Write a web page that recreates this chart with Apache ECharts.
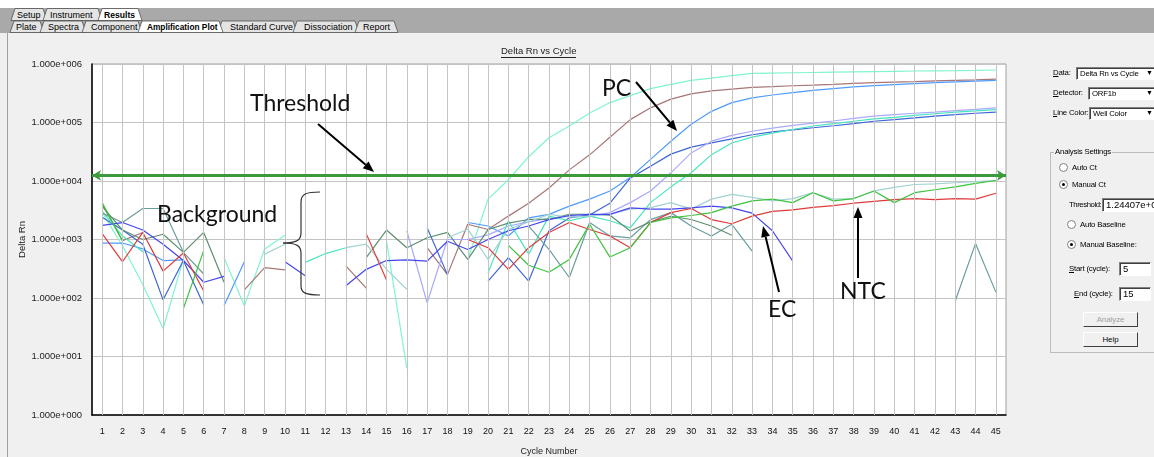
<!DOCTYPE html>
<html><head><meta charset="utf-8">
<script src="https://cdn.jsdelivr.net/npm/echarts@6/dist/echarts.min.js"></script>
<style>
html,body{margin:0;padding:0;}
body{width:1154px;height:457px;background:#f0f0f0;position:relative;overflow:hidden;font-family:'Liberation Sans',Arial,sans-serif;}
#chrome{position:absolute;left:0;top:0;}
#chart{position:absolute;left:0;top:0;width:1154px;height:457px;}
.t{position:absolute;font-size:7.8px;letter-spacing:-0.2px;color:#000;white-space:nowrap;line-height:10px;}
.box{position:absolute;background:#fff;border-top:1px solid #808080;border-left:1px solid #808080;border-bottom:1px solid #fff;border-right:1px solid #fff;box-shadow:inset 1px 1px 0 #404040;font-size:7.8px;letter-spacing:-0.2px;line-height:11px;padding-left:3px;box-sizing:border-box;white-space:nowrap;overflow:hidden;}
.box.big{font-size:9.5px;letter-spacing:0;line-height:12px;}
.arr{position:absolute;font-size:7px;color:#000;}
.rad{position:absolute;width:9px;height:9px;border-radius:50%;background:#fff;border:1px solid #808080;box-sizing:border-box;}
.rad.on::after{content:'';position:absolute;left:2px;top:2px;width:3px;height:3px;border-radius:50%;background:#000;}
.btn{position:absolute;background:#f0f0f0;border:1px solid;border-color:#fff #404040 #404040 #fff;box-sizing:border-box;font-size:7.8px;line-height:13px;text-align:center;}
.grp{position:absolute;border:1px solid #bcbcbc;}
</style></head>
<body>
<svg id="chrome" width="1154" height="457" font-family="Liberation Sans, Arial, sans-serif" font-size="9">
<rect x="0" y="0" width="1154" height="8" fill="#ffffff"/>
<rect x="0" y="8" width="1154" height="25" fill="#a9a9a9"/>
<rect x="0" y="33" width="1154" height="424" fill="#f0f0f0"/>
<line x1="7.5" y1="33" x2="7.5" y2="457" stroke="#a0a0a0"/>
<g stroke="#505050" stroke-width="0.8">
<polygon points="11,20.5 15,8.5 43,8.5 47,20.5" fill="#e4e4e4"/>
<polygon points="43,20.5 47,8.5 98,8.5 102,20.5" fill="#e4e4e4"/>
<polygon points="98,20.5 102,8.5 138,8.5 142,20.5" fill="#ffffff"/>
<polygon points="10,32.5 14,21 40,21 44,32.5" fill="#e4e4e4"/>
<polygon points="40,32.5 44,21 82,21 86,32.5" fill="#e4e4e4"/>
<polygon points="82,32.5 86,21 138,21 142,32.5" fill="#e4e4e4"/>
<polygon points="218,32.5 222,21 293,21 297,32.5" fill="#e4e4e4"/>
<polygon points="293,32.5 297,21 355,21 359,32.5" fill="#e4e4e4"/>
<polygon points="355,32.5 359,21 394,21 398,32.5" fill="#e4e4e4"/>
<polygon points="138,32.5 142,21 219,21 223,32.5" fill="#ffffff"/>
</g>
<g fill="#000">
<text x="17" y="18">Setup</text>
<text x="50" y="18">Instrument</text>
<text x="104" y="18" font-weight="bold" font-size="8.6">Results</text>
<text x="16" y="30">Plate</text>
<text x="48" y="30">Spectra</text>
<text x="91" y="30">Component</text>
<text x="147" y="30" font-weight="bold" font-size="8.3">Amplification Plot</text>
<text x="230" y="30">Standard Curve</text>
<text x="304" y="30">Dissociation</text>
<text x="363" y="30">Report</text>
</g>
</svg>
<div id="chart"></div>

<div class="t" style="left:1053px;top:68px"><u>D</u>ata:</div>
<div class="box" style="left:1076px;top:67px;width:90px;height:13px">Delta Rn vs Cycle</div>
<div class="arr" style="left:1146px;top:69px">&#9660;</div>
<div class="t" style="left:1053px;top:88px"><u>D</u>etector:</div>
<div class="box" style="left:1088px;top:87px;width:80px;height:13px">ORF1b</div>
<div class="arr" style="left:1146px;top:89px">&#9660;</div>
<div class="t" style="left:1053px;top:108px"><u>L</u>ine Color:</div>
<div class="box" style="left:1089px;top:107px;width:80px;height:13px">Well Color</div>
<div class="arr" style="left:1146px;top:109px">&#9660;</div>

<div class="grp" style="left:1050px;top:152px;width:120px;height:199px"></div>
<div class="t" style="left:1054px;top:147px;background:#f0f0f0;padding:0 1px">Analysis Settings</div>
<div class="rad" style="left:1059px;top:163px"></div>
<div class="t" style="left:1072px;top:163px">Auto Ct</div>
<div class="rad on" style="left:1059px;top:180px"></div>
<div class="t" style="left:1072px;top:180px">Manual Ct</div>
<div class="t" style="left:1069px;top:200px;letter-spacing:-0.45px">Threshold:</div>
<div class="box big" style="left:1102px;top:198px;width:60px;height:14px">1.24407e+004</div>
<div class="rad" style="left:1067px;top:220px"></div>
<div class="t" style="left:1080px;top:220px">Auto Baseline</div>
<div class="rad on" style="left:1067px;top:240px"></div>
<div class="t" style="left:1080px;top:240px">Manual Baseline:</div>
<div class="t" style="left:1069px;top:264px"><u>S</u>tart (cycle):</div>
<div class="box big" style="left:1119px;top:262px;width:32px;height:14px">5</div>
<div class="t" style="left:1074px;top:289px"><u>E</u>nd (cycle):</div>
<div class="box big" style="left:1119px;top:287px;width:32px;height:14px">15</div>
<div class="btn" style="left:1083px;top:312px;width:55px;height:15px;color:#a0a0a0">Analyze</div>
<div class="btn" style="left:1083px;top:332px;width:55px;height:15px">Help</div>

<script>
// ---- categories / tick labels ----
const cycles = ['1','2','3','4','5','6','7','8','9','10','11','12','13','14','15','16','17','18','19','20','21','22','23','24','25','26','27','28','29','30','31','32','33','34','35','36','37','38','39','40','41','42','43','44','45'];
const yTickLabels = ['1.000e+000','1.000e+001','1.000e+002','1.000e+003','1.000e+004','1.000e+005','1.000e+006'];
const thresholdValue = 12440.7;

// ---- Delta Rn per well (null = no positive value, not drawn on log axis) ----
const pcAqua = [2900,780,170,30,460,null,490,74,690,1180,null,null,null,null,950,6.3,null,null,460,4900,10500,26000,55000,87000,145000,219000,288000,380000,447000,525000,575000,631000,692000,700000,708000,716000,724000,732000,741000,750000,759000,765000,770000,778000,790000];
const pcBrown = [3980,955,1320,null,null,null,null,138,331,302,null,null,355,148,null,null,724,251,1820,1480,2510,4170,7600,15500,28000,56000,112000,178000,251000,309000,347000,372000,398000,410000,425000,437000,450000,465000,479000,490000,500000,513000,525000,537000,550000];
const pcCornflower = [870,870,690,437,447,null,74,417,null,null,null,null,null,null,null,null,null,null,1950,1700,1150,2340,2690,3720,4900,6760,11500,23400,47900,93300,155000,219000,263000,295000,325000,355000,380000,405000,427000,445000,462000,479000,495000,510000,525000];
const pcRoyal = [2400,1450,830,93,437,76,null,null,null,null,null,null,null,null,null,null,1585,251,null,195,490,195,1410,2340,2630,4170,11200,17800,28800,38000,44700,52500,61700,69000,75000,81300,88000,96000,105000,112000,120000,129000,136000,144000,151000];
const pcLavender = [null,null,null,null,null,null,null,null,null,null,null,null,null,null,null,1410,83,1000,1000,1200,1700,2000,2300,2500,2450,2880,4270,6760,13800,30200,47900,60300,70800,80000,89000,97700,106000,118000,129000,136000,144000,151000,160000,168000,178000];
const pcTurquoise = [3020,1150,617,null,null,null,null,null,null,null,407,575,724,null,null,null,null,null,null,269,2090,562,2510,2090,2510,2090,1585,4270,7940,13800,28200,44700,56200,66000,76000,87100,96000,105000,115000,122000,132000,141000,150000,158000,166000];
const slateTeal = [2820,1950,3390,3390,603,257,null,null,null,null,null,null,null,null,null,null,null,null,null,null,null,1700,676,224,1950,1150,1070,2190,2880,1700,1150,1820,631,null,null,null,null,null,null,null,null,null,89,851,126];
const grayGreen = [3720,1450,1000,1230,603,1320,186,null,null,null,null,null,null,490,1450,724,1070,1320,457,1480,1900,2200,2200,2700,2700,2600,1400,2000,2500,2200,1700,1180,null,null,null,null,null,null,null,null,null,null,null,null,null];
const lightCadet = [null,null,null,null,null,null,null,null,562,832,null,null,724,832,309,141,null,1070,1500,457,1500,2000,2690,2400,2500,2700,3310,3500,4270,3310,4900,5890,5250,4570,5010,6310,4900,5010,6760,7760,8710,8910,9330,9770,10200];
const ecBlue = [1740,1950,1450,832,437,186,234,null,null,417,240,null,162,309,437,447,427,933,676,1000,1410,1700,2190,2570,2690,2690,3470,3310,3310,3470,3720,3470,2820,1410,427,null,null,null,null,null,null,null,null,null,null];
const ntcRed = [1260,417,1320,288,589,132,null,null,null,null,null,null,null,1260,204,null,null,null,1000,724,309,724,1320,1950,1480,1150,724,1950,2880,3390,2190,1860,2510,3020,3200,3550,3800,4170,4500,4790,5010,4790,5010,4900,6170];
const ntcGreen = [4270,955,null,null,66,646,null,null,null,null,null,null,null,null,null,null,null,null,null,null,794,363,275,457,1820,501,724,1950,2340,2570,2880,3720,4570,4900,4270,6310,4570,5010,6760,4270,6310,7080,7940,9120,10200];

const wells = [
  ['PC aquamarine', pcAqua, '#7ef5d0'],
  ['PC brown', pcBrown, '#a87676'],
  ['PC cornflower', pcCornflower, '#4f9cff'],
  ['PC royal', pcRoyal, '#3d66d6'],
  ['PC lavender', pcLavender, '#a9a9ff'],
  ['PC turquoise', pcTurquoise, '#45e6bf'],
  ['slate teal', slateTeal, '#6a9e9e'],
  ['gray green', grayGreen, '#5d8f6f'],
  ['light cadet', lightCadet, '#a2d3d3'],
  ['EC', ecBlue, '#4646f0'],
  ['NTC red', ntcRed, '#e03a3a'],
  ['NTC green', ntcGreen, '#3cc43c']
];

const chart = echarts.init(document.getElementById('chart'), null, {renderer:'canvas'});

function arrow(x1,y1,x2,y2){
  const a = Math.atan2(y2-y1,x2-x1), L = 11, W = 4.5;
  const bx = x2 - L*Math.cos(a), by = y2 - L*Math.sin(a);
  const px = -Math.sin(a)*W, py = Math.cos(a)*W;
  return [
    {type:'line', z:100, shape:{x1:x1,y1:y1,x2:bx,y2:by}, style:{stroke:'#000',lineWidth:2}},
    {type:'polygon', z:100, shape:{points:[[x2,y2],[bx+px,by+py],[bx-px,by-py]]}, style:{fill:'#000'}}
  ];
}
function label(txt,x,y){
  return {type:'text', z:100, x:x, y:y, style:{text:txt, font:'23px Lato', fill:'#111', verticalAlign:'middle'}};
}
const braceStyle = {stroke:'#333', fill:null, lineWidth:1.2};
function bez(x1,y1,c1x,c1y,c2x,c2y,x2,y2){
  return {type:'bezierCurve', z:100, shape:{x1:x1,y1:y1,cpx1:c1x,cpy1:c1y,cpx2:c2x,cpy2:c2y,x2:x2,y2:y2}, style:braceStyle};
}
function seg(x1,y1,x2,y2){
  return {type:'line', z:100, shape:{x1:x1,y1:y1,x2:x2,y2:y2}, style:braceStyle};
}

const series = wells.map(w => ({
  name:w[0], type:'line', data:w[1], symbol:'none', connectNulls:false, z:3,
  lineStyle:{color:w[2], width:1.2}, itemStyle:{color:w[2]}, emphasis:{disabled:true}, silent:true
}));
series.unshift({
  name:'vgrid', type:'line', data:[], z:1, silent:true,
  markLine:{silent:true, symbol:['none','none'], label:{show:false}, animation:false,
    lineStyle:{color:'#c4c4c4', width:1, type:'solid'}, emphasis:{disabled:true},
    data: cycles.map(c => ({xAxis:c}))}
});
series.push({
  name:'threshold', type:'line', data:[], z:5, silent:true,
  markLine:{silent:true, symbol:['arrow','arrow'], symbolSize:[8,9], label:{show:false}, animation:false,
    lineStyle:{color:'#3b9b3b', width:3, type:'solid'}, emphasis:{disabled:true},
    data:[{yAxis:thresholdValue}]}
});

chart.setOption({
  animation:false,
  grid:{left:92, top:64, right:148, bottom:42, outerBoundsMode:'none', containLabel:false, show:true, backgroundColor:'#ffffff', borderColor:'#a0a0a0', borderWidth:1},
  xAxis:{type:'category', data:cycles, boundaryGap:true,
    name:'Cycle Number', nameLocation:'middle', nameGap:32,
    nameTextStyle:{fontSize:9, color:'#222', fontFamily:'Liberation Sans'},
    axisLine:{lineStyle:{color:'#000', width:1.5}}, axisTick:{show:false},
    axisLabel:{interval:0, fontSize:9, color:'#111', margin:12, fontFamily:'Liberation Sans'},
    splitLine:{show:false}},
  yAxis:{type:'log', logBase:10, min:1, max:1000000,
    name:'Delta Rn', nameLocation:'middle', nameGap:65, nameRotate:90, nameMoveOverlap:false,
    nameTextStyle:{fontSize:9.5, color:'#222', fontFamily:'Liberation Sans'},
    axisLine:{show:true, lineStyle:{color:'#000', width:1.5}}, axisTick:{show:false},
    axisLabel:{fontSize:9.5, color:'#222', margin:10, fontFamily:'Liberation Sans',
      formatter: v => yTickLabels[Math.round(Math.log10(v))]},
    splitLine:{show:true, lineStyle:{color:'#c4c4c4', width:1}}},
  series: series,
  graphic:{elements:[
    {type:'text', z:100, x:501, y:46, style:{text:'Delta Rn vs Cycle', font:'9.5px "Liberation Sans"', fill:'#222'}},
    {type:'line', z:100, shape:{x1:501,y1:57.5,x2:576,y2:57.5}, style:{stroke:'#222', lineWidth:1}},
    label('Threshold',250,104),
    ...arrow(318,124,374,172),
    label('PC',602,89),
    ...arrow(636,82,677,131),
    label('Background',157,215),
    bez(320,192,306,192,301,194,301,202),
    seg(301,202,301,233),
    bez(301,233,301,240,297,243,283,243),
    bez(283,243,297,243,301,246,301,253),
    seg(301,253,301,286),
    bez(301,286,301,293,306,295,320,295),
    label('EC',768,310),
    ...arrow(779,292,763,226),
    label('NTC',840,292),
    ...arrow(858,278,858,207)
  ]}
});
</script>
</body></html>
